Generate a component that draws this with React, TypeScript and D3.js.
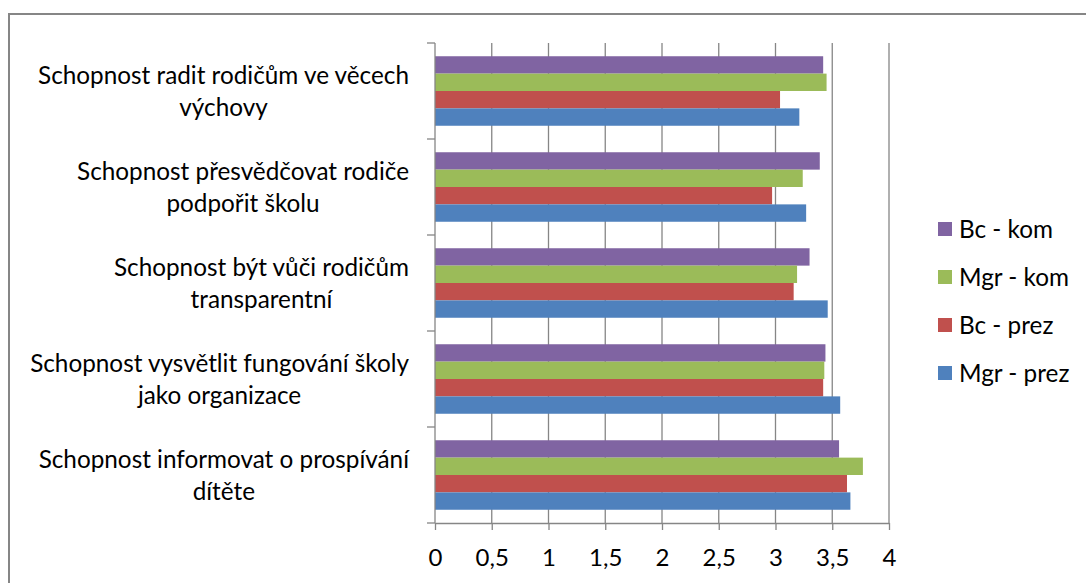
import { useEffect, useRef } from "react";
import * as d3 from "d3";

// categories listed top to bottom as they appear in the chart
const categories = [
  "Schopnost radit rodičům ve věcech výchovy",
  "Schopnost přesvědčovat rodiče podpořit školu",
  "Schopnost být vůči rodičům transparentní",
  "Schopnost vysvětlit fungování školy jako organizace",
  "Schopnost informovat o prospívání dítěte",
];

// series, top to bottom inside each group (= legend order)
const seriesNames = ["Bc - kom", "Mgr - kom", "Bc - prez", "Mgr - prez"];
const seriesColors = ["#8064A2", "#9BBB59", "#C0504D", "#4F81BD"];

const bcKom = [3.42, 3.39, 3.3, 3.44, 3.56];
const mgrKom = [3.45, 3.24, 3.19, 3.43, 3.77];
const bcPrez = [3.04, 2.97, 3.16, 3.42, 3.63];
const mgrPrez = [3.21, 3.27, 3.46, 3.57, 3.66];

const xTicks = [0, 0.5, 1, 1.5, 2, 2.5, 3, 3.5, 4];

const FONT = "Lato, 'Liberation Sans', sans-serif";

function App() {
  const ref = useRef<SVGSVGElement>(null);

  useEffect(() => {
    drawChart();
  }, []);

  function drawChart() {
    const width = 1086,
      height = 583;
    const plot = { left: 435, right: 889, top: 43, bottom: 523 };
    const gridColor = "#868686";

    const svg = d3.select(ref.current);
    svg.selectAll("*").remove();

    // outer chart frame
    svg
      .append("rect")
      .attr("x", 9)
      .attr("y", 14)
      .attr("width", width + 20)
      .attr("height", height + 20)
      .attr("fill", "#fff")
      .attr("stroke", gridColor)
      .attr("stroke-width", 2);

    const x = d3.scaleLinear().domain([0, 4]).range([plot.left, plot.right]);

    const y = d3
      .scaleBand()
      .domain(categories)
      .range([plot.top, plot.bottom])
      .paddingInner(0.276)
      .paddingOuter(0.138);

    const ySub = d3
      .scaleBand()
      .domain(seriesNames)
      .range([0, y.bandwidth()]);

    // vertical gridlines
    svg
      .append("g")
      .selectAll("line")
      .data(xTicks.filter((d) => d > 0))
      .join("line")
      .attr("x1", (d) => x(d))
      .attr("x2", (d) => x(d))
      .attr("y1", plot.top)
      .attr("y2", plot.bottom)
      .attr("stroke", gridColor)
      .attr("stroke-width", 1.3);

    // bars
    const values = [bcKom, mgrKom, bcPrez, mgrPrez];
    const rows = categories.flatMap((c, i) =>
      seriesNames.map((s, j) => ({ cat: c, series: s, value: values[j][i], color: seriesColors[j] }))
    );
    svg
      .append("g")
      .selectAll("rect")
      .data(rows)
      .join("rect")
      .attr("x", x(0))
      .attr("y", (d) => y(d.cat)! + ySub(d.series)!)
      .attr("width", (d) => x(d.value) - x(0))
      .attr("height", ySub.bandwidth())
      .attr("fill", (d) => d.color);

    // x axis
    svg
      .append("g")
      .attr("transform", `translate(0,${plot.bottom})`)
      .call(
        d3
          .axisBottom(x)
          .tickValues(xTicks)
          .tickSize(7)
          .tickSizeOuter(0)
          .tickPadding(19)
          .tickFormat((d) => String(d).replace(".", ","))
      )
      .call((g) => g.selectAll("line, path").attr("stroke", gridColor).attr("stroke-width", 1.3))
      .call((g) =>
        g
          .selectAll("text")
          .attr("fill", "#000")
          .attr("font-family", FONT)
          .attr("font-size", 24)
      );

    // y axis: line with ticks at category boundaries
    const yAxis = svg.append("g").attr("stroke", gridColor).attr("stroke-width", 1.3);
    yAxis
      .append("line")
      .attr("x1", plot.left)
      .attr("x2", plot.left)
      .attr("y1", plot.top)
      .attr("y2", plot.bottom);
    const bounds = categories.map((c) => y(c)! - (y.step() * y.paddingOuter())).concat([plot.bottom]);
    yAxis
      .selectAll("line.tick")
      .data(bounds)
      .join("line")
      .attr("class", "tick")
      .attr("x1", plot.left - 8)
      .attr("x2", plot.left)
      .attr("y1", (d) => d)
      .attr("y2", (d) => d);

    // category labels, wrapped and centred
    const labelRight = 409;
    const maxWidth = 392;
    const lineHeight = 32;
    const labels = svg
      .append("g")
      .attr("font-family", FONT)
      .attr("font-size", 24.3)
      .attr("fill", "#000");

    categories.forEach((c) => {
      const t = labels.append("text").attr("text-anchor", "middle");
      const words = c.split(" ");
      const lines: string[] = [];
      let current = "";
      words.forEach((w) => {
        const test = current ? current + " " + w : w;
        t.text(test);
        if ((t.node() as SVGTextElement).getComputedTextLength() > maxWidth && current) {
          lines.push(current);
          current = w;
        } else {
          current = test;
        }
      });
      lines.push(current);
      t.text(null);
      const widths = lines.map((l) => {
        t.text(l);
        return (t.node() as SVGTextElement).getComputedTextLength();
      });
      t.text(null);
      const cx = labelRight - d3.max(widths)! / 2;
      const cy = y(c)! + y.bandwidth() / 2;
      lines.forEach((l, i) => {
        t.append("tspan")
          .attr("x", cx)
          .attr("y", cy + (i - (lines.length - 1) / 2) * lineHeight)
          .attr("dy", "0.35em")
          .text(l);
      });
    });

    // legend
    const legend = svg
      .append("g")
      .selectAll("g")
      .data(seriesNames)
      .join("g")
      .attr("transform", (d, i) => `translate(938,${229 + i * 48})`);
    legend
      .append("rect")
      .attr("y", -7)
      .attr("width", 14)
      .attr("height", 14)
      .attr("fill", (d, i) => seriesColors[i]);
    legend
      .append("text")
      .attr("x", 21)
      .attr("dy", "0.35em")
      .attr("font-family", FONT)
      .attr("font-size", 24.3)
      .text((d) => d);
  }

  return (
    <svg
      ref={ref}
      width={1086}
      height={583}
      style={{ position: "absolute", left: 0, top: 0, display: "block" }}
    />
  );
}

export default App;
